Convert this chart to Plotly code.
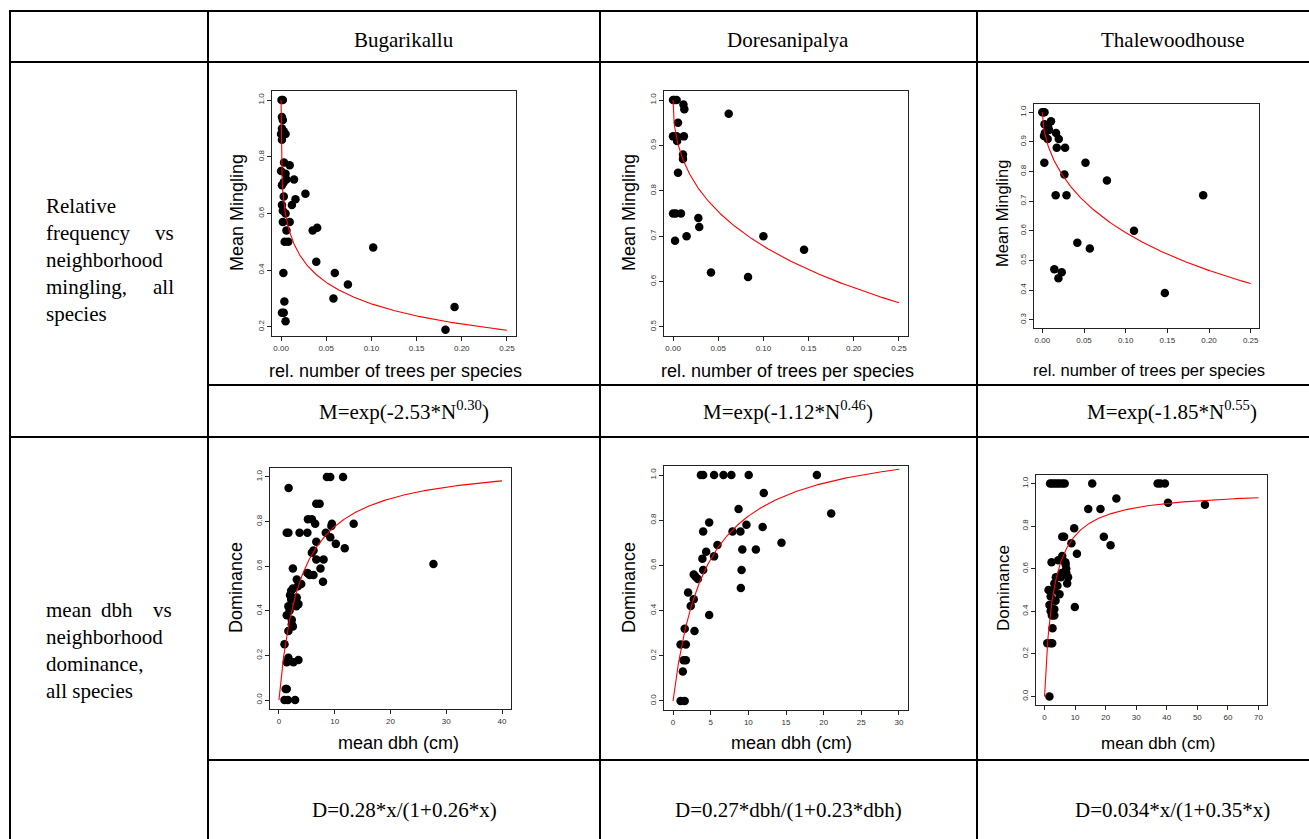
import numpy as np
import plotly.graph_objects as go

W, H = 1309, 839

sites = ["Bugarikallu", "Doresanipalya", "Thalewoodhouse"]

# ---- Mingling vs relative number of trees per species ----
bug_m_x = [0.0005, 0.002, 0.001, 0.002, 0.001, 0.003, 0.005, 0.0, 0.001, 0.0033, 0.0096,
           0.0, 0.005, 0.006, 0.0144, 0.001, 0.003, 0.027, 0.003, 0.016, 0.012, 0.001,
           0.002, 0.005, 0.002, 0.0096, 0.035, 0.04, 0.006, 0.004, 0.008, 0.102, 0.039,
           0.0026, 0.0595, 0.074, 0.058, 0.0037, 0.192, 0.001, 0.003, 0.005, 0.182]
bug_m_y = [1.0, 1.0, 0.94, 0.93, 0.90, 0.89, 0.88, 0.88, 0.86, 0.78, 0.77,
           0.75, 0.74, 0.72, 0.72, 0.70, 0.71, 0.67, 0.66, 0.65, 0.63, 0.63,
           0.61, 0.60, 0.57, 0.57, 0.54, 0.55, 0.54, 0.50, 0.50, 0.48, 0.43,
           0.39, 0.39, 0.35, 0.30, 0.29, 0.27, 0.25, 0.25, 0.22, 0.19]

dor_m_x = [0.0, 0.004, 0.0015, 0.0115, 0.0125, 0.0616, 0.0055, 0.0, 0.004, 0.012, 0.0045,
           0.011, 0.011, 0.0055, 0.0, 0.003, 0.0088, 0.028, 0.029, 0.015, 0.1, 0.0022,
           0.145, 0.042, 0.083]
dor_m_y = [1.0, 1.0, 1.0, 0.99, 0.98, 0.97, 0.95, 0.92, 0.92, 0.92, 0.91,
           0.88, 0.87, 0.84, 0.75, 0.75, 0.75, 0.74, 0.72, 0.70, 0.70, 0.69,
           0.67, 0.62, 0.61]

tha_m_x = [0.0, 0.0012, 0.0026, 0.0026, 0.0104, 0.007, 0.008, 0.003, 0.002, 0.0165, 0.0197,
           0.0064, 0.0173, 0.0273, 0.0024, 0.0518, 0.0265, 0.0775, 0.016, 0.029, 0.193,
           0.11, 0.042, 0.057, 0.0144, 0.0233, 0.0193, 0.147]
tha_m_y = [1.0, 1.0, 1.0, 0.96, 0.97, 0.95, 0.94, 0.93, 0.92, 0.93, 0.91,
           0.91, 0.88, 0.88, 0.83, 0.83, 0.79, 0.77, 0.72, 0.72, 0.72,
           0.60, 0.56, 0.54, 0.47, 0.46, 0.44, 0.39]

# fitted M = exp(-a * N^b)
ming_a = [2.53, 1.12, 1.85]
ming_b = [0.30, 0.46, 0.55]

# ---- Dominance vs mean dbh ----
bug_d_x = [1.74, 8.6, 9.2, 11.5, 5.2, 5.9, 6.7, 7.3, 13.4, 6.5, 9.5, 9.4, 1.4, 1.7, 3.7, 5.1,
           8.4, 9.2, 10.2, 6.7, 11.8, 6.2, 5.9, 6.7, 8.0, 27.7, 2.5, 7.45, 5.1, 5.5, 6.2,
           7.9, 3.2, 4.0, 3.4, 2.5, 2.2, 2.0, 3.2, 2.2, 1.7, 3.5, 3.1, 1.4, 1.9, 2.3, 2.3,
           2.5, 1.7, 1.0, 1.7, 1.4, 2.6, 3.5, 1.2, 1.4, 1.0, 1.6, 2.9]
bug_d_y = [0.95, 1.0, 1.0, 1.0, 0.81, 0.81, 0.88, 0.88, 0.79, 0.79, 0.79, 0.78, 0.75, 0.75, 0.75, 0.75,
           0.75, 0.73, 0.70, 0.71, 0.68, 0.67, 0.66, 0.63, 0.63, 0.61, 0.59, 0.59, 0.57, 0.56, 0.56,
           0.53, 0.54, 0.52, 0.51, 0.50, 0.49, 0.47, 0.46, 0.45, 0.42, 0.43, 0.42, 0.38, 0.40, 0.36, 0.34,
           0.33, 0.31, 0.25, 0.19, 0.17, 0.17, 0.18, 0.05, 0.05, 0.0, 0.0, 0.0]

dor_d_x = [3.7, 4.0, 5.45, 6.7, 7.75, 10.05, 19.1, 12.05, 8.7, 21.0, 4.8, 9.75, 11.9, 4.0, 7.9,
           8.95, 14.4, 5.9, 9.2, 11.0, 4.4, 5.45, 3.9, 4.0, 9.1, 2.75, 3.0, 3.3, 9.0, 2.0,
           2.75, 2.35, 4.8, 1.55, 2.85, 1.0, 1.7, 1.4, 1.7, 1.3, 1.0, 1.55]
dor_d_y = [1.0, 1.0, 1.0, 1.0, 1.0, 1.0, 1.0, 0.92, 0.85, 0.83, 0.79, 0.78, 0.77, 0.75, 0.75,
           0.75, 0.70, 0.69, 0.67, 0.67, 0.66, 0.64, 0.63, 0.58, 0.58, 0.56, 0.55, 0.54, 0.50, 0.48,
           0.45, 0.42, 0.38, 0.32, 0.31, 0.25, 0.25, 0.18, 0.18, 0.13, 0.0, 0.0]

tha_d_x = [1.6, 0.9, 2.0, 2.5, 2.6, 2.0, 2.4, 3.2, 3.2, 1.6, 3.6, 2.0, 1.3, 3.0, 4.9, 3.2,
           4.2, 3.7, 5.3, 7.4, 7.7, 5.6, 7.1, 2.3, 4.5, 5.8, 6.8, 6.9, 7.1, 10.6, 9.9, 5.8,
           6.4, 8.8, 9.7, 19.4, 21.6, 14.3, 18.3, 23.5, 40.4, 52.5, 1.8, 2.5, 3.3, 4.1,
           4.9, 5.8, 6.6, 15.6, 37.0, 37.9, 39.4]
tha_d_y = [0.0, 0.25, 0.25, 0.25, 0.32, 0.40, 0.38, 0.38, 0.41, 0.43, 0.45, 0.47, 0.50, 0.50, 0.48, 0.53,
           0.52, 0.56, 0.56, 0.53, 0.56, 0.58, 0.58, 0.63, 0.64, 0.66, 0.63, 0.62, 0.60, 0.67, 0.42, 0.75,
           0.75, 0.72, 0.79, 0.75, 0.71, 0.88, 0.88, 0.93, 0.91, 0.90, 1.0, 1.0, 1.0, 1.0,
           1.0, 1.0, 1.0, 1.0, 1.0, 1.0, 1.0]

# fitted D = a*x / (1 + b*x)
dom_a = [0.28, 0.27, 0.34]
dom_b = [0.26, 0.23, 0.35]
dom_xmax = [40, 30, 70]

ming_formulas = ["M=exp(-2.53*N<sup>0.30</sup>)", "M=exp(-1.12*N<sup>0.46</sup>)",
                 "M=exp(-1.85*N<sup>0.55</sup>)"]
dom_formulas = ["D=0.28*x/(1+0.26*x)", "D=0.27*dbh/(1+0.23*dbh)", "D=0.034*x/(1+0.35*x)"]

row1_words = [("Relative", None), ("frequency", "vs"), ("neighborhood", None),
              ("mingling,", "all"), ("species", None)]
row2_lines = [["mean", "dbh", "vs"], ["neighborhood"], ["dominance,"], ["all species"]]


def fx(p):
    return p / W


def fy(p):
    return 1 - p / H


fig = go.Figure()

# panel geometry (pixels: left, right, top, bottom)
boxes = [
    (272, 516, 91, 336), (664, 908, 91, 336), (1034, 1259, 104, 328),
    (270, 511, 468, 709), (664, 908, 466, 710), (1036, 1267, 475, 705),
]
xranges = [[-0.01, 0.26]] * 3 + [[-1.6, 41.6], [-1.2, 31.2], [-2.8, 72.8]]
yranges = [[0.168, 1.032], [0.48, 1.02], [0.272, 1.028],
           [-0.04, 1.04], [-0.04, 1.04], [-0.04, 1.04]]
xticks = [[0, 0.05, 0.10, 0.15, 0.20, 0.25]] * 3 + [
    [0, 10, 20, 30, 40], [0, 5, 10, 15, 20, 25, 30], [0, 10, 20, 30, 40, 50, 60, 70]]
yticks = [[0.2, 0.4, 0.6, 0.8, 1.0], [0.5, 0.6, 0.7, 0.8, 0.9, 1.0],
          [0.3, 0.4, 0.5, 0.6, 0.7, 0.8, 0.9, 1.0]] + [[0, 0.2, 0.4, 0.6, 0.8, 1.0]] * 3
xfmt = [".2f"] * 3 + ["d"] * 3

scatter_data = [(bug_m_x, bug_m_y), (dor_m_x, dor_m_y), (tha_m_x, tha_m_y),
                (bug_d_x, bug_d_y), (dor_d_x, dor_d_y), (tha_d_x, tha_d_y)]

for i in range(6):
    ax = "" if i == 0 else str(i + 1)
    xs, ys = scatter_data[i]
    if i < 3:
        cx = np.linspace(0.0, 0.25, 400)
        cy = np.exp(-ming_a[i] * cx ** ming_b[i])
    else:
        j = i - 3
        cx = np.linspace(0.0, dom_xmax[j], 400)
        cy = dom_a[j] * cx / (1 + dom_b[j] * cx)
    fig.add_trace(go.Scatter(x=xs, y=ys, mode="markers", xaxis="x" + ax, yaxis="y" + ax,
                             marker=dict(color="black", size=8.5, line=dict(width=0)),
                             showlegend=False, hoverinfo="skip"))
    fig.add_trace(go.Scatter(x=cx, y=cy, mode="lines", xaxis="x" + ax, yaxis="y" + ax,
                             line=dict(color="red", width=1.1), showlegend=False,
                             hoverinfo="skip"))
    l, r, t, b = boxes[i]
    common = dict(showgrid=False, zeroline=False, showline=True, mirror=True,
                  linecolor="#222", linewidth=1, ticks="outside", ticklen=4,
                  tickcolor="#222", tickwidth=1,
                  tickfont=dict(family="Liberation Sans, Arial", size=8, color="#333"))
    fig.layout["xaxis" + ax] = dict(domain=[fx(l), fx(r)], range=xranges[i],
                                    anchor="y" + ax, tickvals=xticks[i],
                                    tickformat=xfmt[i], **common)
    fig.layout["yaxis" + ax] = dict(domain=[fy(b), fy(t)], range=yranges[i],
                                    anchor="x" + ax, tickvals=yticks[i],
                                    tickformat=".1f", tickangle=-90, **common)

annotations = []


def add_text(text, x, y, size, family="Liberation Serif", xanchor="center", angle=0,
             color="black"):
    annotations.append(dict(text=text, x=fx(x), y=fy(y), xref="paper", yref="paper",
                            showarrow=False, xanchor=xanchor, yanchor="middle",
                            textangle=angle,
                            font=dict(family=family, size=size, color=color)))


# headers
for name, cx in zip(sites, [404, 788, 1172]):
    add_text(name, cx, 40, 21)
# formulas
for f, cx in zip(ming_formulas, [404, 788, 1172]):
    add_text(f, cx, 411, 21)
for f, cx in zip(dom_formulas, [404, 788, 1172]):
    add_text(f, cx, 810, 21)

# first column text (justified)
for k, (lw, rw) in enumerate(row1_words):
    y = 206 + 27 * k
    add_text(lw, 44, y, 21, xanchor="left")
    if rw:
        add_text(rw, 176, y, 21, xanchor="right")
for k, words in enumerate(row2_lines):
    y = 610 + 27 * k
    if len(words) == 3:
        add_text(words[0], 44, y, 21, xanchor="left")
        add_text(words[1], 117, y, 21)
        add_text(words[2], 174, y, 21, xanchor="right")
    else:
        add_text(words[0], 44, y, 21, xanchor="left")

# axis titles
sans = "Liberation Sans, Arial"
xt = [("rel. number of trees per species", 395, 371, 18),
      ("rel. number of trees per species", 787, 371, 18),
      ("rel. number of trees per species", 1149, 370, 16.5),
      ("mean dbh (cm)", 398, 743, 18),
      ("mean dbh (cm)", 791, 743, 18),
      ("mean dbh (cm)", 1158, 743, 17)]
yt = [("Mean Mingling", 237, 213, 18), ("Mean Mingling", 629, 213, 18),
      ("Mean Mingling", 1002, 214, 16.5), ("Dominance", 236, 588, 18),
      ("Dominance", 629, 588, 18), ("Dominance", 1003, 588, 17)]
for txt, x, y, s in xt:
    add_text(txt, x, y, s, family=sans)
for txt, x, y, s in yt:
    add_text(txt, x, y, s, family=sans, angle=-90)

# table lines
shapes = []


def hline(y, x0, x1):
    shapes.append(dict(type="line", xref="paper", yref="paper", x0=fx(x0), x1=fx(x1),
                       y0=fy(y), y1=fy(y), line=dict(color="black", width=2)))


def vline(x, y0, y1):
    shapes.append(dict(type="line", xref="paper", yref="paper", x0=fx(x), x1=fx(x),
                       y0=fy(y0), y1=fy(y1), line=dict(color="black", width=2)))


hline(11, 9, 1309)
hline(62, 9, 1309)
hline(385, 208, 1309)
hline(437, 9, 1309)
hline(760, 208, 1309)
for x in [10, 208, 600, 977]:
    vline(x, 10, 839)

fig.update_layout(width=W, height=H, margin=dict(l=0, r=0, t=0, b=0),
                  paper_bgcolor="white", plot_bgcolor="white",
                  annotations=annotations, shapes=shapes, showlegend=False)

fig.write_html("out.html", config={"displayModeBar": False})

# remove the browser's default page margin so the figure sits at the window origin
with open("out.html", "r", encoding="utf-8") as fh:
    html = fh.read()
html = html.replace("<head>", "<head><style>html,body{margin:0;padding:0;overflow:hidden;}</style>", 1)
with open("out.html", "w", encoding="utf-8") as fh:
    fh.write(html)
